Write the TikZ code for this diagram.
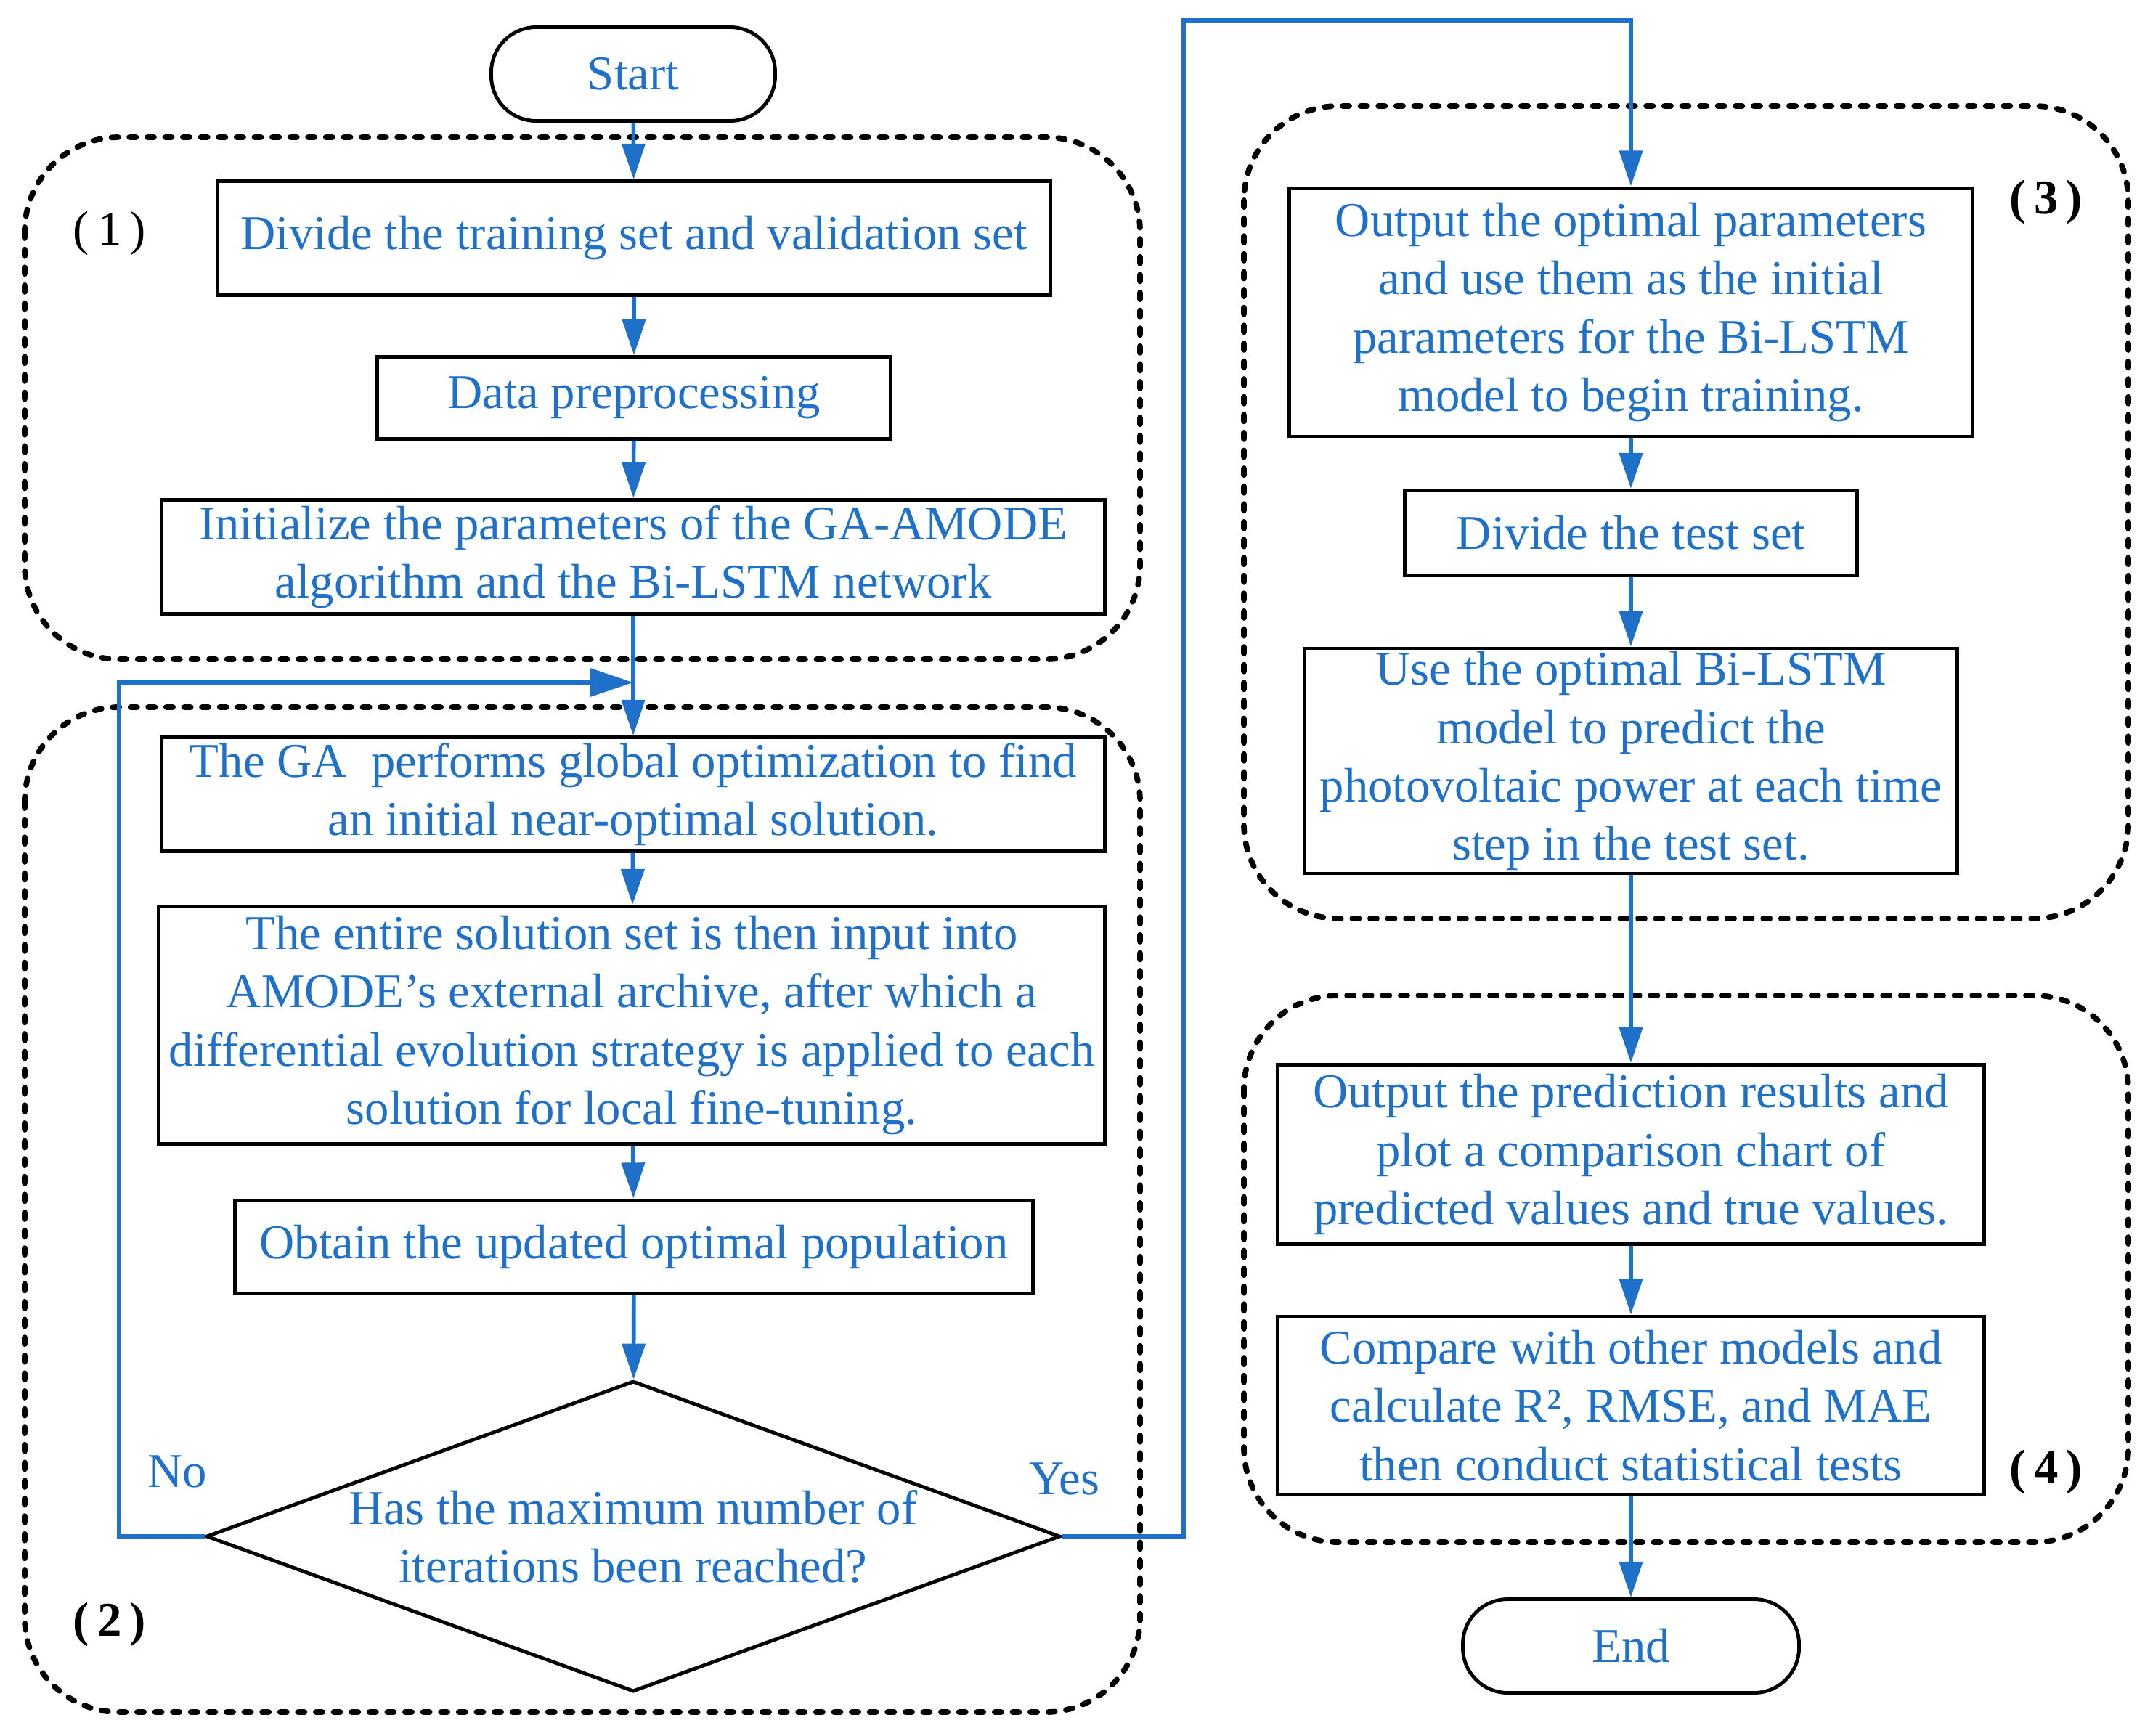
\documentclass[tikz,border=0pt]{standalone}
\usepackage{fontspec}
\setmainfont{Liberation Serif}
\usetikzlibrary{arrows.meta,shapes.geometric}

\definecolor{flowblue}{RGB}{30,112,200}

\begin{document}
\begin{tikzpicture}[>={Triangle[length=14pt,width=9pt]},
  font=\fontsize{19}{22.8}\selectfont,
  box/.style={draw, line width=1.4pt, text=flowblue, align=center, inner sep=0pt},
  term/.style={box, rounded corners=0.62cm, minimum width=3.91cm, minimum height=1.29cm},
  decision/.style={draw, line width=1.4pt, text=flowblue, align=center, diamond, aspect=2.75,
    inner sep=0pt, minimum width=11.76cm, minimum height=4.28cm},
  flow/.style={flowblue, line width=1.6pt},
  group/.style={black, line width=2.2pt, line cap=round, dash pattern=on 2.6pt off 4.4pt, rounded corners=1.3cm}]

\useasboundingbox (0,0) rectangle (29.65,-23.90);

% Dashed stage frames
\draw[group] (0.34,-1.89) rectangle (15.70,-9.08);
\draw[group] (0.34,-9.74) rectangle (15.70,-23.58);
\draw[group] (17.13,-1.46) rectangle (29.31,-12.65);
\draw[group] (17.13,-13.71) rectangle (29.31,-21.24);

% Stage numbers
\node (g1) at (1.51,-3.21) {(\,1\,)};
\node[font=\fontsize{19}{22.8}\selectfont\bfseries] (g2) at (1.51,-22.37) {(\,2\,)};
\node[font=\fontsize{19}{22.8}\selectfont\bfseries] (g3) at (28.18,-2.78) {(\,3\,)};
\node[font=\fontsize{19}{22.8}\selectfont\bfseries] (g4) at (28.18,-20.27) {(\,4\,)};

% Left column
\node[term] (start) at (8.72,-1.02) {Start};
\node[box, minimum width=11.48cm, minimum height=1.57cm] (divide) at (8.73,-3.28) {Divide the training set and validation set};
\node[box, minimum width=7.07cm, minimum height=1.13cm] (prep) at (8.73,-5.48) {Data preprocessing};
\node[box, minimum width=12.99cm, minimum height=1.57cm] (init) at (8.72,-7.67) {Initialize the parameters of the GA-AMODE\\algorithm and the Bi-LSTM network};
\node[box, minimum width=12.99cm, minimum height=1.57cm] (ga) at (8.72,-10.94) {The GA\ \ performs global optimization to find\\an initial near-optimal solution.};
\node[box, minimum width=13.03cm, minimum height=3.27cm] (archive) at (8.70,-14.12) {The entire solution set is then input into\\AMODE’s external archive, after which a\\differential evolution strategy is applied to each\\solution for local fine-tuning.};
\node[box, minimum width=10.99cm, minimum height=1.28cm] (update) at (8.73,-17.17) {Obtain the updated optimal population};
\node[decision] (check) at (8.72,-21.16) {Has the maximum number of\\iterations been reached?};

% Right column
\node[box, minimum width=9.41cm, minimum height=3.42cm] (optpar) at (22.46,-4.30) {Output the optimal parameters\\and use them as the initial\\parameters for the Bi-LSTM\\model to begin training.};
\node[box, minimum width=6.23cm, minimum height=1.17cm] (testset) at (22.46,-7.34) {Divide the test set};
\node[box, minimum width=8.99cm, minimum height=3.10cm] (predict) at (22.46,-10.48) {Use the optimal Bi-LSTM\\model to predict the\\photovoltaic power at each time\\step in the test set.};
\node[box, minimum width=9.73cm, minimum height=2.47cm] (results) at (22.46,-15.90) {Output the prediction results and\\plot a comparison chart of\\predicted values and true values.};
\node[box, minimum width=9.73cm, minimum height=2.46cm] (compare) at (22.46,-19.36) {Compare with other models and\\calculate R², RMSE, and MAE\\then conduct statistical tests};
\node[term, minimum width=4.63cm] (end) at (22.46,-22.67) {End};

% Branch labels
\node[text=flowblue] (no) at (2.44,-20.27) {No};
\node[text=flowblue] (yes) at (14.66,-20.37) {Yes};

% Main flow
\draw[flow,->] (start) -- (divide);
\draw[flow,->] (divide) -- (prep);
\draw[flow,->] (prep) -- (init);
\draw[flow,->] (init) -- (ga);
\draw[flow,->] (ga) -- (archive);
\draw[flow,->] (archive) -- (update);
\draw[flow,->] (update) -- (check);

% Loop back (No)
\coordinate (merge) at (8.72,-9.40);
\draw[flow,-{Triangle[length=17pt,width=11pt]}] (check.west) -- ++(-1.18,0) |- (merge);

% Exit (Yes)
\coordinate (turn) at (16.30,-0.28);
\draw[flow,->] (check.east) -| (turn) -| (optpar.north);

\draw[flow,->] (optpar) -- (testset);
\draw[flow,->] (testset) -- (predict);
\draw[flow,->] (predict) -- (results);
\draw[flow,->] (results) -- (compare);
\draw[flow,->] (compare) -- (end);

\end{tikzpicture}
\end{document}
